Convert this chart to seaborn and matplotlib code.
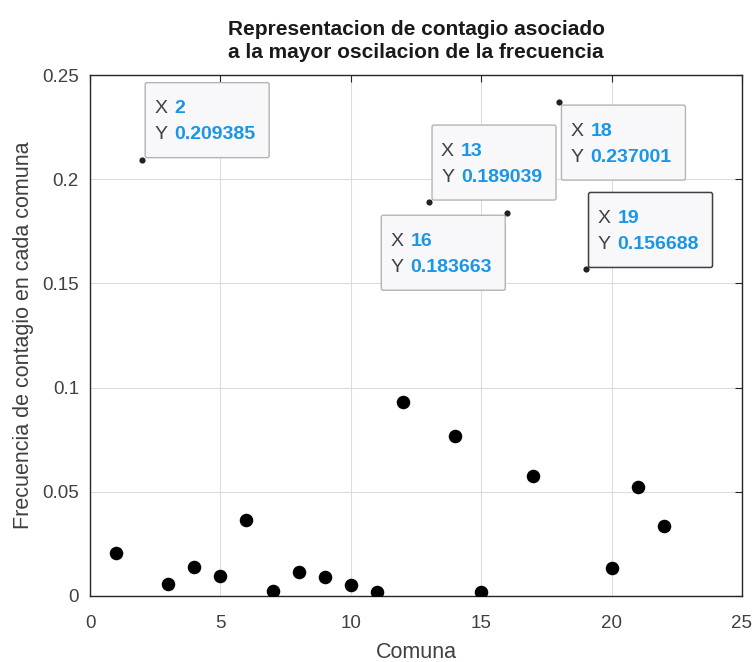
import matplotlib
matplotlib.use("Agg")
import matplotlib.pyplot as plt
import matplotlib.patches as mpatches
import pandas as pd
import seaborn as sns

# puntos grandes (comunas sin etiqueta)
comuna = [1, 3, 4, 5, 6, 7, 8, 9, 10, 11, 12, 14, 15, 17, 20, 21, 22]
frecuencia = [0.0205, 0.0059, 0.0140, 0.0094, 0.0366, 0.0025, 0.0113, 0.0089,
              0.0054, 0.0021, 0.0929, 0.0770, 0.0018, 0.0577, 0.0134, 0.0523, 0.0335]

# puntos con data tip
tip_x = [2, 13, 16, 18, 19]
tip_y = [0.209385, 0.189039, 0.183663, 0.237001, 0.156688]
# donde va la caja respecto al punto: esquina del punto
tip_corner = ["ll", "ll", "ur", "ul", "ll"]
tip_selected = [False, False, False, False, True]

x_ticks = [0, 5, 10, 15, 20, 25]
y_ticks = [0, 0.05, 0.1, 0.15, 0.2, 0.25]
y_tick_labels = ["0", "0.05", "0.1", "0.15", "0.2", "0.25"]

sns.set_theme(style="white")
plt.rcParams["font.family"] = ["Liberation Sans", "DejaVu Sans"]

df = pd.DataFrame({"Comuna": comuna, "Frecuencia": frecuencia})
df_tip = pd.DataFrame({"Comuna": tip_x, "Frecuencia": tip_y})

fig = plt.figure(figsize=(7.56, 6.62), dpi=100)
fig.patch.set_facecolor("white")
ax = fig.add_axes([90 / 756, 1 - 596 / 662, (742 - 90) / 756, (596 - 75) / 662])

sns.scatterplot(data=df, x="Comuna", y="Frecuencia", ax=ax, s=95,
                color="black", edgecolor="black", linewidth=0, zorder=3)
sns.scatterplot(data=df_tip, x="Comuna", y="Frecuencia", ax=ax, s=20,
                color="#222222", edgecolor="#222222", linewidth=0, zorder=6)

ax.set_xlim(0, 25)
ax.set_ylim(0, 0.25)
ax.set_xticks(x_ticks)
ax.set_yticks(y_ticks)
ax.set_yticklabels(y_tick_labels)
ax.tick_params(direction="in", length=5, width=0.8, top=True, right=True,
               labelsize=13.5, colors="#262626", labelcolor="#404040", pad=8)
ax.tick_params(axis="x", pad=14)
ax.grid(True, color="#dcdcdc", linewidth=0.8)
ax.set_axisbelow(True)
for s in ax.spines.values():
    s.set_color("#262626")
    s.set_linewidth(1)

ax.set_xlabel("Comuna", fontsize=15.5, color="#404040", labelpad=7)
ax.set_ylabel("Frecuencia de contagio en cada comuna", fontsize=15.5,
              color="#404040", labelpad=6)
ax.set_title("Representacion de contagio asociado\na la mayor oscilacion de la frecuencia",
             fontsize=15, fontweight="bold", color="#1a1a1a", pad=12,
             linespacing=1.3)

# data tips (cajas en pixeles de pantalla)
fig.canvas.draw()
bw, bh = 124, 75
for x, y, corner, sel in zip(tip_x, tip_y, tip_corner, tip_selected):
    px, py = ax.transData.transform((x, y))
    if corner == "ll":
        x0, y0 = px + 3, py + 2
    elif corner == "ul":
        x0, y0 = px + 2, py - 3 - bh
    else:
        x0, y0 = px - 2 - bw, py - 2 - bh
    box = mpatches.FancyBboxPatch((x0, y0), bw, bh, boxstyle="round,pad=0,rounding_size=2",
                                  transform=None, facecolor="#f8f8fa",
                                  edgecolor="#404040" if sel else "#b4b4b4",
                                  linewidth=1.1 if sel else 1.0, zorder=5)
    fig.add_artist(box)
    for i, (lab, val) in enumerate([("X", f"{x:g}"), ("Y", f"{y:.6f}")]):
        ty = y0 + bh - 26 - 26 * i
        fig.text(x0 + 9, ty, lab, transform=None, fontsize=14, color="#404040",
                 va="center", ha="left", zorder=7)
        fig.text(x0 + 29, ty, val, transform=None, fontsize=14, color="#1a96e6",
                 fontweight="bold", va="center", ha="left", zorder=7)

fig.savefig("out.png", dpi=100)
